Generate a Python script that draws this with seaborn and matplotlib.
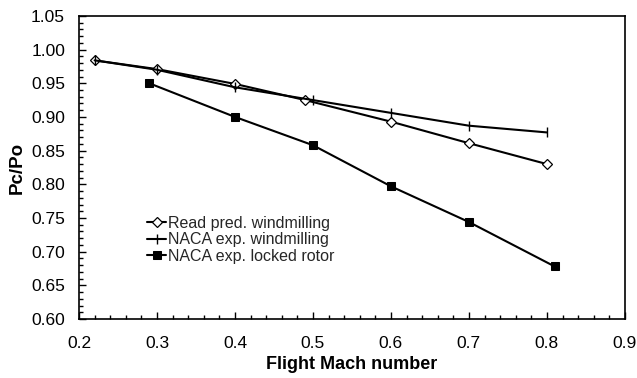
import matplotlib
matplotlib.use("Agg")
import matplotlib.pyplot as plt
import seaborn as sns
from matplotlib.ticker import MultipleLocator

sns.set_theme(style="white")
plt.rcParams['font.family'] = ['Liberation Sans', 'DejaVu Sans']

read_x = [0.22, 0.30, 0.40, 0.49, 0.60, 0.70, 0.80]
read_y = [0.984, 0.971, 0.949, 0.925, 0.893, 0.861, 0.830]
naca_wind_x = [0.22, 0.30, 0.40, 0.50, 0.60, 0.70, 0.80]
naca_wind_y = [0.984, 0.970, 0.944, 0.925, 0.906, 0.887, 0.877]
naca_lock_x = [0.29, 0.40, 0.50, 0.60, 0.70, 0.81]
naca_lock_y = [0.950, 0.900, 0.858, 0.797, 0.744, 0.678]
labels = ["Read pred. windmilling", "NACA exp. windmilling", "NACA exp. locked rotor"]

fig = plt.figure(figsize=(6.37, 3.78), dpi=100)
ax = fig.add_axes([0.124, 0.156, 0.857, 0.802])

sns.lineplot(x=read_x, y=read_y, ax=ax, color="black", lw=1.5, marker="D",
             markersize=5, markerfacecolor="white", markeredgecolor="black",
             markeredgewidth=0.9, label=labels[0])
sns.lineplot(x=naca_wind_x, y=naca_wind_y, ax=ax, color="black", lw=1.5, marker="|",
             markersize=7, markeredgecolor="black", markeredgewidth=1.0, label=labels[1])
sns.lineplot(x=naca_lock_x, y=naca_lock_y, ax=ax, color="black", lw=1.5, marker="s",
             markersize=5.5, markerfacecolor="black", markeredgecolor="black", label=labels[2])

ax.set_xlim(0.2, 0.9)
ax.set_ylim(0.60, 1.05)
ax.xaxis.set_major_locator(MultipleLocator(0.1))
ax.xaxis.set_minor_locator(MultipleLocator(0.02))
ax.yaxis.set_major_locator(MultipleLocator(0.05))
ax.yaxis.set_minor_locator(MultipleLocator(0.01))
ax.set_xticklabels([f"{v:.1f}" for v in ax.get_xticks()])
ax.set_yticklabels([f"{v:.2f}" for v in ax.get_yticks()])
ax.tick_params(axis="both", which="major", direction="in", length=5, width=1,
               labelsize=12.5, color="black", labelcolor="black", bottom=True, left=True)
ax.tick_params(axis="x", which="major", pad=12)
ax.tick_params(axis="y", which="major", pad=10)
ax.tick_params(axis="both", which="minor", direction="in", length=3, width=1,
               color="black", bottom=True, left=True)
for s in ax.spines.values():
    s.set_color("black")
    s.set_linewidth(1.2)

ax.set_xlabel("Flight Mach number", fontsize=13, fontweight="bold", color="black", labelpad=4)
ax.set_ylabel("Pc/Po", fontsize=13.5, fontweight="bold", color="black", labelpad=4)

leg = ax.legend(loc="upper left", bbox_to_anchor=(0.125, 0.34), frameon=False, fontsize=11.5,
                handlelength=1.2, handletextpad=0.1, labelspacing=0.08, borderaxespad=0,
                borderpad=0)

fig.savefig("out.png", dpi=100)
